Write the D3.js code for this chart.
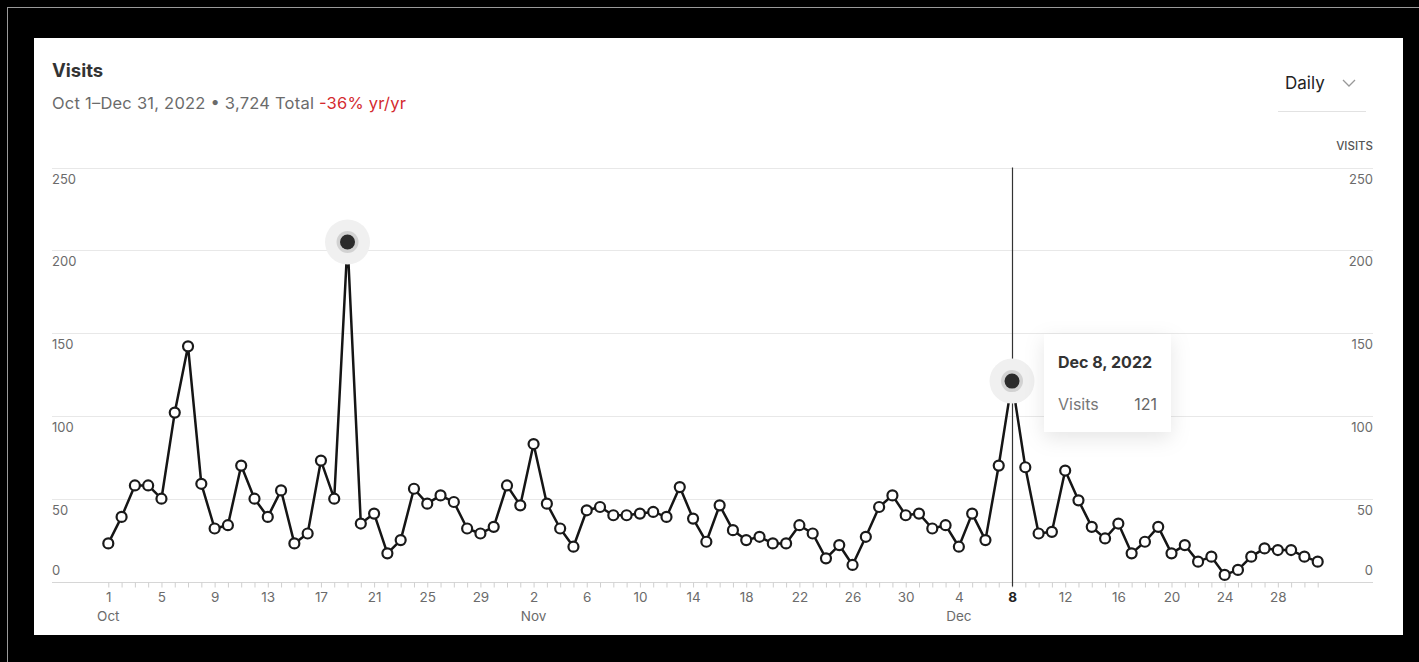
<!DOCTYPE html>
<html>
<head>
<meta charset="utf-8">
<script src="https://cdn.jsdelivr.net/npm/d3@7"></script>
<style>
  html, body { margin: 0; padding: 0; background: #000; }
  svg { display: block; font-family: Inter, "Noto Sans", sans-serif; }
</style>
</head>
<body>
<svg id="chart" width="1419" height="662"></svg>
<script>
// Daily visits, Oct 1 – Dec 31, 2022
const octVisits = [23, 39, 58, 58, 50, 102, 142, 59, 32, 34, 70, 50, 39, 55, 23, 29, 73, 50, 205, 35, 41, 17, 25, 56, 47, 52, 48, 32, 29, 33, 58];
const novVisits = [46, 83, 47, 32, 21, 43, 45, 40, 40, 41, 42, 39, 57, 38, 24, 46, 31, 25, 27, 23, 23, 34, 29, 14, 22, 10, 27, 45, 52, 40];
const decVisits = [41, 32, 34, 21, 41, 25, 70, 121, 69, 29, 30, 67, 49, 33, 26, 35, 17, 24, 33, 17, 22, 12, 15, 4, 7, 15, 20, 19, 19, 15, 12];
const yTicks = [0, 50, 100, 150, 200, 250];
const monthNames = ["Oct", "Nov", "Dec"];
const highlighted = ["2022-10-19", "2022-12-08"];
const focusDay = "2022-12-08";

const allVisits = [...octVisits, ...novVisits, ...decVisits];
const start = new Date(Date.UTC(2022, 9, 1));
const data = allVisits.map((v, i) => ({ date: d3.utcDay.offset(start, i), value: v, idx: i }));
const fmtKey = d3.utcFormat("%Y-%m-%d");

const svg = d3.select("#chart");

// frame + card
svg.append("line").attr("x1", 7.5).attr("x2", 7.5).attr("y1", 7).attr("y2", 662).attr("stroke", "#9a9a9a").attr("stroke-width", 1);
svg.append("line").attr("x1", 7).attr("x2", 1419).attr("y1", 7.5).attr("y2", 7.5).attr("stroke", "#9a9a9a").attr("stroke-width", 1);
svg.append("rect").attr("x", 34).attr("y", 38).attr("width", 1369).attr("height", 597).attr("fill", "#fff");

const x = d3.scaleUtc()
  .domain([start, d3.utcDay.offset(start, allVisits.length - 1)])
  .range([108.3, 1317.7]);
const y = d3.scaleLinear().domain([0, 250]).range([581.5, 167.5]);
const gx0 = 52, gx1 = 1373;

// header
svg.append("text").attr("x", 52).attr("y", 77).attr("font-size", 18.5).attr("font-weight", 700)
  .attr("fill", "#333").text("Visits");
const sub = svg.append("text").attr("x", 52).attr("y", 109).attr("font-size", 16.5).attr("fill", "#6b6b6b")
  .attr("textLength", 354).attr("lengthAdjust", "spacing");
sub.append("tspan").text("Oct 1–Dec 31, 2022 • 3,724 Total ");
sub.append("tspan").attr("fill", "#d42a2f").text("-36% yr/yr");

svg.append("text").attr("x", 1285).attr("y", 89).attr("font-size", 17).attr("fill", "#222").text("Daily");
svg.append("path").attr("d", "M1343,80 L1349,86 L1355,80").attr("fill", "none").attr("stroke", "#999").attr("stroke-width", 1.3);
svg.append("line").attr("x1", 1278).attr("x2", 1366).attr("y1", 111.5).attr("y2", 111.5).attr("stroke", "#e2e2e2");
svg.append("text").attr("x", gx1).attr("y", 150).attr("text-anchor", "end").attr("font-size", 11.5)
  .attr("font-weight", 500).attr("fill", "#555").text("VISITS");

// gridlines + y labels both sides
const grid = svg.append("g");
grid.selectAll("line").data(yTicks).join("line")
  .attr("x1", gx0).attr("x2", gx1)
  .attr("y1", d => Math.round(y(d)) + 0.5).attr("y2", d => Math.round(y(d)) + 0.5)
  .attr("stroke", d => d === 0 ? "#d6d6d6" : "#e8e8e8");
const labelY = d => d === 0 ? y(d) - 7 : y(d) + 16;
grid.selectAll("text.l").data(yTicks).join("text").attr("class", "l")
  .attr("x", gx0).attr("y", labelY).attr("font-size", 13).attr("fill", "#6b6b6b").text(d => d);
grid.selectAll("text.r").data(yTicks).join("text").attr("class", "r")
  .attr("x", gx1).attr("y", labelY).attr("text-anchor", "end").attr("font-size", 13).attr("fill", "#6b6b6b").text(d => d);

// x axis: a tick each day, a label every fourth day, month name under its first label
const xAxis = d3.axisBottom(x)
  .tickValues(data.map(d => d.date))
  .tickSize(5)
  .tickFormat((d, i) => i % 4 === 0 ? d3.utcFormat("%-d")(d) : "");
const ax = svg.append("g").attr("transform", `translate(0,${Math.round(y(0)) + 0.5})`).call(xAxis);
ax.select(".domain").remove();
ax.selectAll(".tick line").attr("stroke", "#cfcfcf");
ax.selectAll(".tick text").attr("font-size", 13.5).attr("font-family", "Inter, 'Noto Sans', sans-serif")
  .attr("fill", "#6b6b6b").attr("dy", "0.95em").attr("y", 7);
ax.selectAll(".tick text").filter(d => fmtKey(d) === focusDay).attr("fill", "#222").attr("font-weight", 700);

const monthStarts = monthNames.map((m, k) => data.find(d => d.date.getUTCMonth() === 9 + k && d.idx % 4 === 0));
svg.selectAll("text.month").data(monthStarts).join("text").attr("class", "month")
  .attr("x", d => x(d.date)).attr("y", 621).attr("text-anchor", "middle")
  .attr("font-size", 13.5).attr("fill", "#6b6b6b").text((d, k) => monthNames[k]);

// hover rule
const focus = data.find(d => fmtKey(d.date) === focusDay);
svg.append("line").attr("x1", Math.round(x(focus.date)) + 0.5).attr("x2", Math.round(x(focus.date)) + 0.5)
  .attr("y1", y(250)).attr("y2", y(0) + 5).attr("stroke", "#333").attr("stroke-width", 1.2);

// series line
svg.append("path").datum(data)
  .attr("d", d3.line().x(d => x(d.date)).y(d => y(d.value)))
  .attr("fill", "none").attr("stroke", "#151515").attr("stroke-width", 2.5).attr("stroke-linejoin", "round");

// markers
const plain = data.filter(d => !highlighted.includes(fmtKey(d.date)));
svg.selectAll("circle.pt").data(plain).join("circle").attr("class", "pt")
  .attr("cx", d => x(d.date)).attr("cy", d => y(d.value)).attr("r", 5)
  .attr("fill", "#fff").attr("stroke", "#1a1a1a").attr("stroke-width", 2.2);

const hi = data.filter(d => highlighted.includes(fmtKey(d.date)));
const hg = svg.selectAll("g.hi").data(hi).join("g").attr("class", "hi")
  .attr("transform", d => `translate(${x(d.date)},${y(d.value)})`);
hg.append("circle").attr("r", 22.5).attr("fill", "#f0f0f0");
hg.append("circle").attr("r", 11).attr("fill", "#d2d2d2");
hg.append("circle").attr("r", 7.5).attr("fill", "#2b2b2b");

// tooltip
const defs = svg.append("defs");
const f = defs.append("filter").attr("id", "shadow").attr("x", "-50%").attr("y", "-50%").attr("width", "200%").attr("height", "200%");
f.append("feDropShadow").attr("dx", 0).attr("dy", 6).attr("stdDeviation", 10).attr("flood-color", "#000").attr("flood-opacity", 0.10);
const tip = svg.append("g").attr("transform", "translate(1044,334)");
tip.append("rect").attr("width", 127).attr("height", 98).attr("fill", "#fff").attr("filter", "url(#shadow)");
tip.append("text").attr("x", 14).attr("y", 34).attr("font-size", 16).attr("font-weight", 700).attr("fill", "#333")
  .text(d3.utcFormat("%b %-d, %Y")(focus.date));
tip.append("text").attr("x", 14).attr("y", 76).attr("font-size", 16).attr("fill", "#777").text("Visits");
tip.append("text").attr("x", 113).attr("y", 76).attr("text-anchor", "end").attr("font-size", 16).attr("fill", "#666").text(focus.value);
</script>
</body>
</html>
